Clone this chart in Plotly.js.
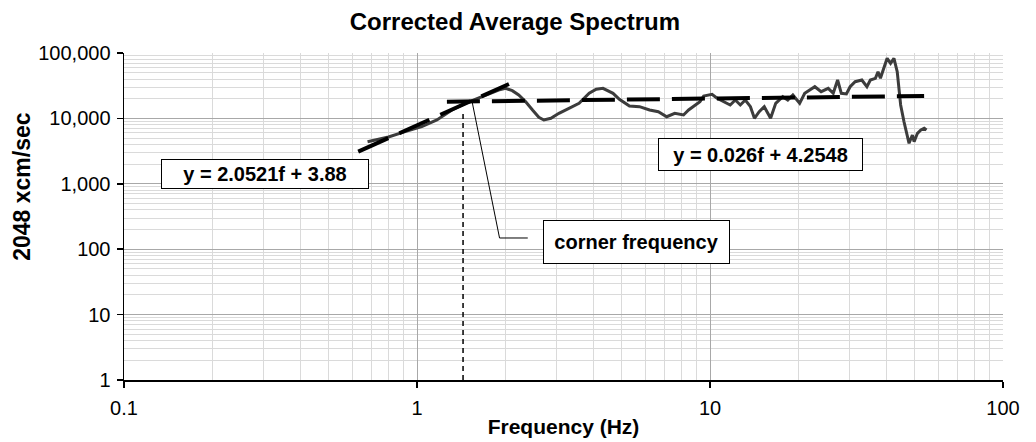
<!DOCTYPE html>
<html>
<head>
<meta charset="utf-8">
<script src="https://cdn.plot.ly/plotly-3.0.1.min.js"></script>
<style>html,body{margin:0;padding:0;background:#fff;}#chart{width:1036px;height:442px;}</style>
</head>
<body>
<div id="chart"></div>
<script>
// Spectrum
const freqHz = [0.678,0.799,0.911,1.038,1.169,1.316,1.462,1.582,1.713,1.898,2.006,2.115,2.224,2.350,2.479,2.605,2.710,2.864,3.051,3.303,3.574,3.869,4.090,4.313,4.426,4.668,4.906,5.310,5.747,6.221,6.664,7.116,7.581,8.122,8.450,8.790,9.240,9.514,10.16,10.57,11.15,11.72,12.20,12.69,13.20,13.74,14.18,14.72,15.32,16.10,16.76,17.71,18.43,19.18,20.23,21.05,22.79,23.95,25.32,26.34,27.26,28.07,29.21,30.08,31.29,32.98,34.32,35.26,36.69,37.45,38.17,39.18,40.23,41.33,42.44,43.55,44.14,44.74,45.93,47.15,47.79,49.06,49.73,51.05,52.45,53.83,54.83];
const spectrum = [4405,5195,6266,7464,9454,13430,17010,19590,22790,27180,28840,26530,22790,17990,13430,10400,9454,10030,11960,14260,17010,24210,27870,28840,27180,24210,19590,15480,15110,13430,12650,10610,11960,11270,13430,15110,17990,22010,23350,20290,17990,16030,19100,16030,19100,15110,10030,12650,15110,10030,17010,21470,19100,22790,17010,24210,30520,25600,28840,24210,38640,24210,23620,30520,36400,38640,30520,38640,41020,51800,41020,58340,82940,69530,82940,51800,28840,16030,8898,5572,4160,5572,4405,5916,6651,7057,6651];

// Fit lines (end points)
const fitLowFreq = [0.63, 2.06];
const fitLowAmp = [3100, 33600];
const fitHighFreq = [1.265, 53.8];
const fitHighAmp = [17990, 22010];

// Corner frequency marker and leader line
const cornerFreq = [1.436, 1.436];
const cornerAmp = [1, 13400];
const leaderFreq = [1.542, 1.913, 2.388];
const leaderAmp = [17990, 148.4, 148.4];

// Axis ticks
const xTickVals = [0.1, 1, 10, 100];
const xTickText = ['0.1', '1', '10', '100'];
const yTickVals = [1, 10, 100, 1000, 10000, 100000];
const yTickText = ['1', '10', '100', '1,000', '10,000', '100,000'];

const FONT = 'Liberation Sans, Arial, Helvetica, sans-serif';

const traces = [
  {x: cornerFreq, y: cornerAmp, mode: 'lines', line: {color: '#000', width: 1.5, dash: '5px,4px'}, hoverinfo: 'skip'},
  {x: leaderFreq, y: leaderAmp, mode: 'lines', line: {color: '#000', width: 1}, hoverinfo: 'skip'},
  {x: freqHz, y: spectrum, mode: 'lines', line: {color: '#3c3c3c', width: 3}},
  {x: fitLowFreq, y: fitLowAmp, mode: 'lines', line: {color: '#000', width: 4, dash: '33px,12px'}},
  {x: fitHighFreq, y: fitHighAmp, mode: 'lines', line: {color: '#000', width: 4, dash: '33px,12px'}}
];

const boxFont = {family: FONT, size: 20, color: '#000', weight: 'bold'};
const layout = {
  width: 1036, height: 442,
  margin: {l: 124, r: 33, t: 53, b: 62},
  paper_bgcolor: '#fff', plot_bgcolor: '#fff',
  showlegend: false,
  font: {family: FONT, color: '#000'},
  title: {text: 'Corrected Average Spectrum', font: {family: FONT, size: 24, weight: 'bold', color: '#000'},
          x: 0.497, xref: 'container', y: 0.952, yref: 'container', yanchor: 'middle'},
  xaxis: {
    type: 'log', range: [-1, 2], tickvals: xTickVals, ticktext: xTickText,
    showline: true, linecolor: '#000', linewidth: 1.5, ticks: 'outside', ticklen: 6, tickcolor: '#000', tickwidth: 1.5,
    tickfont: {family: FONT, size: 20, color: '#000'}, ticklabelstandoff: 3,
    showgrid: true, gridcolor: '#a8a8a8', gridwidth: 1, zeroline: false,
    minor: {dtick: 'D1', showgrid: true, gridcolor: '#dadada', gridwidth: 1, ticks: ''},
    title: {text: 'Frequency (Hz)', font: {family: FONT, size: 21, weight: 'bold', color: '#000'}, standoff: 2}
  },
  yaxis: {
    type: 'log', range: [0, 5], tickvals: yTickVals, ticktext: yTickText,
    showline: true, linecolor: '#000', linewidth: 1.5, ticks: 'outside', ticklen: 6, tickcolor: '#000', tickwidth: 1.5,
    tickfont: {family: FONT, size: 20, color: '#000'}, ticklabelstandoff: 2,
    showgrid: true, gridcolor: '#a8a8a8', gridwidth: 1, zeroline: false,
    minor: {dtick: 'D1', showgrid: true, gridcolor: '#dadada', gridwidth: 1, ticks: ''}
  },
  annotations: [
    {xref: 'paper', yref: 'paper', x: -0.1164, y: 0.593, text: '2048 xcm/sec', textangle: -90, showarrow: false,
     font: {family: FONT, size: 23, weight: 'bold', color: '#000'}, xanchor: 'center', yanchor: 'middle'},
    {xref: 'paper', yref: 'paper', x: 0.1604, y: 0.630, text: 'y = 2.0521f + 3.88', showarrow: false,
     font: boxFont, bgcolor: '#fff', bordercolor: '#000', borderwidth: 1, borderpad: 0, width: 206, height: 28, xanchor: 'center', yanchor: 'middle'},
    {xref: 'paper', yref: 'paper', x: 0.7241, y: 0.6896, text: 'y = 0.026f + 4.2548', showarrow: false,
     font: boxFont, bgcolor: '#fff', bordercolor: '#000', borderwidth: 1, borderpad: 0, width: 203, height: 31, xanchor: 'center', yanchor: 'middle'},
    {xref: 'paper', yref: 'paper', x: 0.5831, y: 0.422, text: 'corner frequency', showarrow: false,
     font: boxFont, bgcolor: '#fff', bordercolor: '#000', borderwidth: 1, borderpad: 0, width: 185, height: 42, xanchor: 'center', yanchor: 'middle'}
  ]
};

Plotly.newPlot('chart', traces, layout, {staticPlot: true, displayModeBar: false});
</script>
</body>
</html>
